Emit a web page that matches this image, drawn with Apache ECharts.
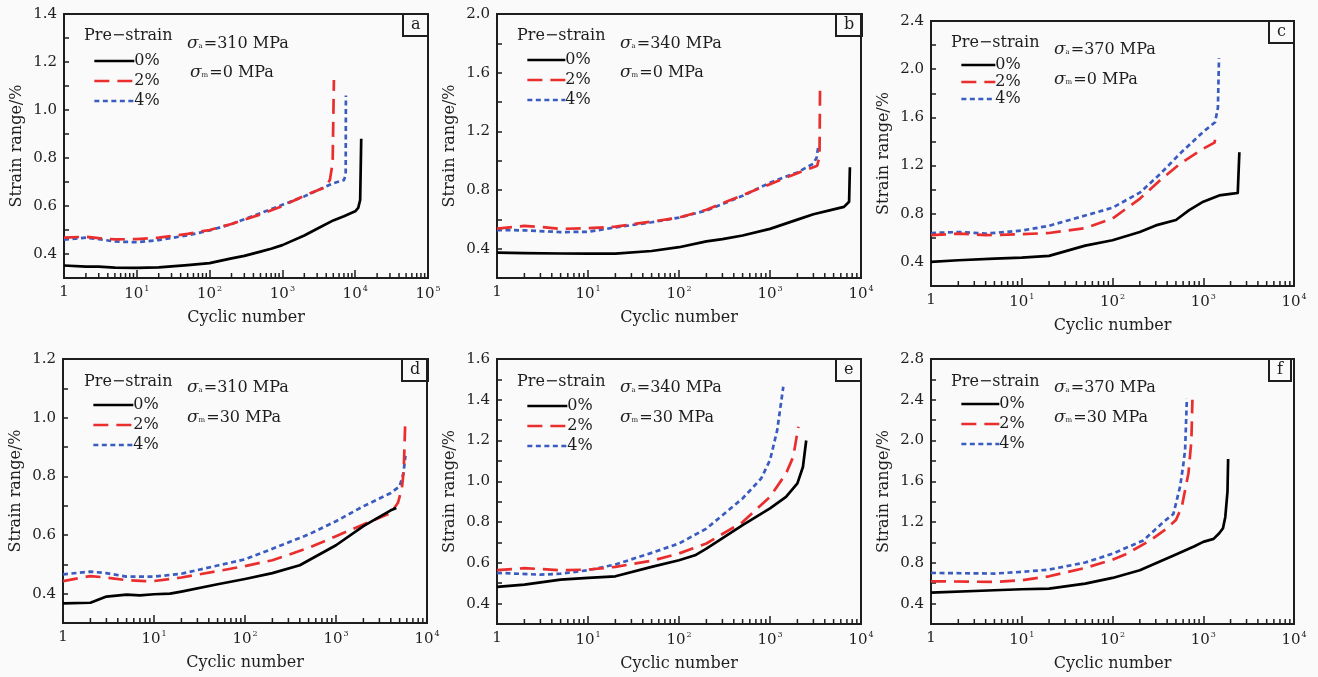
<!DOCTYPE html>
<html>
<head>
<meta charset="utf-8">
<script src="https://cdn.jsdelivr.net/npm/echarts@6/dist/echarts.min.js"></script>
<style>
html,body{margin:0;padding:0;background:#fafafa;}
#chart{width:1318px;height:677px;}
</style>
</head>
<body>
<div id="chart"></div>
<script>
// ---------------- DATA ----------------
const seriesNames = ['0%', '2%', '4%'];
const panelLetters = ['a', 'b', 'c', 'd', 'e', 'f'];
const stressAmp = ['310', '340', '370', '310', '340', '370'];
const stressMean = ['0', '0', '0', '30', '30', '30'];
const xMaxExp = [5, 4, 4, 4, 4, 4];
const yMin = [0.3, 0.2, 0.2, 0.3, 0.3, 0.2];
const yMax = [1.4, 2.0, 2.4, 1.2, 1.6, 2.8];
const yTickStep = [0.1, 0.2, 0.2, 0.1, 0.1, 0.2];
const xAxisTitle = 'Cyclic number';
const yAxisTitle = 'Strain range/%';
const legendTitle = 'Pre−strain';

// panel a (σa=310, σm=0)
const a0 = [[1,0.352],[2,0.347],[3,0.347],[5,0.343],[10,0.342],[20,0.344],[50,0.354],[100,0.362],[200,0.382],[300,0.392],[500,0.41],[700,0.422],[1000,0.437],[2000,0.477],[3000,0.505],[5000,0.54],[7000,0.557],[10000,0.578],[11000,0.592],[11700,0.625],[12100,0.88]];
const a2 = [[1,0.468],[2,0.472],[3,0.466],[5,0.461],[10,0.462],[20,0.468],[50,0.484],[100,0.5],[200,0.525],[500,0.565],[1000,0.6],[2000,0.643],[3000,0.665],[4000,0.68],[4500,0.71],[4900,0.78],[5100,1.125]];
const a4 = [[1,0.46],[2,0.468],[3,0.462],[5,0.452],[10,0.449],[20,0.458],[50,0.478],[100,0.498],[200,0.525],[500,0.57],[1000,0.605],[2000,0.64],[3000,0.665],[5000,0.695],[7000,0.708],[7400,0.73],[7450,1.06]];
// panel b (σa=340, σm=0)
const b0 = [[1,0.373],[2,0.37],[5,0.367],[10,0.366],[20,0.366],[50,0.384],[100,0.41],[200,0.45],[300,0.465],[500,0.49],[1000,0.535],[2000,0.598],[3000,0.635],[5000,0.668],[6500,0.685],[7400,0.72],[7550,0.955]];
const b2 = [[1,0.537],[2,0.555],[3,0.548],[5,0.535],[10,0.54],[20,0.55],[50,0.585],[100,0.612],[200,0.665],[500,0.765],[1000,0.84],[2000,0.915],[3000,0.955],[3300,0.965],[3500,1.03],[3550,1.525]];
const b4 = [[1,0.527],[2,0.525],[5,0.513],[10,0.515],[20,0.545],[50,0.58],[100,0.612],[200,0.66],[500,0.76],[1000,0.85],[2000,0.92],[3000,0.98],[3250,1.02],[3400,1.1]];
// panel c (σa=370, σm=0)
const c0 = [[1,0.4],[2,0.414],[5,0.428],[10,0.436],[20,0.45],[50,0.535],[100,0.58],[200,0.648],[300,0.703],[500,0.748],[700,0.83],[1000,0.9],[1500,0.952],[2000,0.965],[2400,0.972],[2500,1.31]];
const c2 = [[1,0.622],[2,0.635],[4,0.622],[10,0.63],[20,0.64],[50,0.68],[100,0.76],[201,0.926],[335,1.078],[556,1.216],[1000,1.34],[1330,1.39],[1370,1.44]];
const c4 = [[1,0.64],[2,0.648],[4,0.635],[10,0.66],[20,0.7],[50,0.785],[100,0.85],[200,0.975],[335,1.13],[556,1.3],[1000,1.48],[1350,1.56],[1450,1.68],[1490,2.09]];
// panel d (σa=310, σm=30)
const d0 = [[1,0.367],[2,0.369],[3,0.39],[5,0.397],[7,0.394],[10,0.398],[15,0.4],[20,0.407],[50,0.432],[100,0.45],[200,0.47],[400,0.497],[1000,0.565],[2000,0.63],[3000,0.662],[4000,0.684],[4600,0.692]];
const d2 = [[1,0.443],[2,0.46],[3,0.455],[5,0.446],[8,0.443],[10,0.443],[20,0.455],[50,0.477],[100,0.494],[200,0.514],[500,0.556],[1000,0.596],[2000,0.636],[4000,0.675],[4800,0.71],[5300,0.76],[5550,0.82],[5780,0.995]];
const d4 = [[1,0.466],[2,0.475],[3,0.47],[5,0.458],[10,0.458],[20,0.468],[50,0.496],[100,0.517],[200,0.553],[500,0.602],[1000,0.647],[2000,0.698],[4000,0.743],[5000,0.766],[5500,0.81],[5800,0.87]];
// panel e (σa=340, σm=30)
const e0 = [[1,0.482],[2,0.493],[5,0.518],[10,0.526],[20,0.534],[50,0.58],[100,0.613],[150,0.637],[200,0.67],[500,0.785],[1000,0.867],[1500,0.924],[2000,0.99],[2300,1.07],[2500,1.2]];
const e2 = [[1,0.564],[2,0.574],[5,0.564],[10,0.567],[20,0.58],[50,0.61],[100,0.646],[200,0.695],[500,0.8],[1000,0.924],[1500,1.038],[1800,1.12],[2050,1.268]];
const e4 = [[1,0.551],[3,0.542],[5,0.547],[10,0.564],[20,0.592],[50,0.649],[100,0.695],[200,0.768],[500,0.916],[800,1.014],[1000,1.104],[1200,1.251],[1400,1.464]];
// panel f (σa=370, σm=30)
const f0 = [[1,0.508],[5,0.531],[10,0.541],[20,0.547],[50,0.596],[100,0.652],[200,0.727],[500,0.881],[800,0.963],[1000,1.006],[1300,1.035],[1500,1.09],[1650,1.14],[1750,1.25],[1850,1.5],[1880,1.818]];
const f2 = [[1,0.619],[5,0.613],[10,0.629],[20,0.668],[50,0.75],[100,0.83],[144,0.89],[260,1.02],[396,1.137],[500,1.22],[580,1.35],[687,1.68],[740,2.0],[760,2.4]];
const f4 = [[1,0.701],[5,0.695],[10,0.711],[20,0.734],[50,0.803],[100,0.89],[219,1.02],[364,1.2],[469,1.28],[556,1.55],[600,1.75],[631,1.906],[660,2.414]];

const panelSeries = [[a0,a2,a4],[b0,b2,b4],[c0,c2,c4],[d0,d2,d4],[e0,e2,e4],[f0,f2,f4]];

// ---------------- LAYOUT / STYLE ----------------
const FONT = 'DejaVu Serif';
const INK = '#1e1e1e';
const lineColors = ['#000000', '#ea2e2e', '#3a5cc0'];
const lineTypes = ['solid', [15, 8], [5, 3.5]];
const grids = [
  {left: 64, top: 14, width: 364, height: 264},
  {left: 497, top: 14, width: 364, height: 264},
  {left: 931, top: 21, width: 363, height: 265},
  {left: 63, top: 359, width: 364, height: 264},
  {left: 497, top: 359, width: 364, height: 265},
  {left: 931, top: 359, width: 363, height: 265}
];
const legendPos = [
  {left: 88, top: 48, gap: 4, w: 40}, {left: 521, top: 47, gap: 4, w: 38}, {left: 955, top: 52, gap: 1, w: 34},
  {left: 87, top: 392, gap: 4, w: 40}, {left: 521, top: 393, gap: 4, w: 40}, {left: 955, top: 391, gap: 4, w: 38}
];
const legendTitlePos = [[84, 28], [517, 28], [951, 35], [84, 374], [517, 374], [951, 374]];
const sigmaPos = [[187, 35, 190, 64], [620, 35, 620, 64], [1054, 41, 1054, 71], [187, 379, 187, 409], [620, 379, 620, 409], [1054, 379, 1054, 409]];

const option = {
  backgroundColor: '#fafafa',
  animation: false,
  grid: [], xAxis: [], yAxis: [], series: [], legend: [], title: []
};

panelSeries.forEach((lines, i) => {
  const g = grids[i];
  option.grid.push(Object.assign({show: true, borderColor: INK, borderWidth: 2, backgroundColor: 'transparent'}, g));
  option.xAxis.push({
    type: 'log', logBase: 10, gridIndex: i, min: 1, max: Math.pow(10, xMaxExp[i]),
    name: xAxisTitle, nameLocation: 'middle', nameGap: 32,
    nameTextStyle: {fontFamily: FONT, fontSize: 16, color: INK},
    axisLine: {lineStyle: {color: INK, width: 2}},
    axisTick: {inside: true, length: 8, lineStyle: {color: INK, width: 1.5}},
    splitLine: {show: false},
    axisLabel: {
      showMinLabel: true, showMaxLabel: true, margin: 7,
      fontFamily: FONT, fontSize: 15, color: INK,
      formatter: v => { const e = Math.round(Math.log10(v)); return e === 0 ? '1' : '10{s|' + e + '}'; },
      rich: {s: {fontFamily: FONT, fontSize: 8, color: INK, padding: [0, 0, 10, 1]}}
    }
  });
  const step = yTickStep[i];
  option.yAxis.push({
    type: 'value', gridIndex: i, min: yMin[i], max: yMax[i], interval: step,
    name: yAxisTitle, nameLocation: 'middle', nameGap: 39,
    nameTextStyle: {fontFamily: FONT, fontSize: 16, color: INK},
    axisLine: {lineStyle: {color: INK, width: 2}},
    axisTick: {inside: true, length: 5, lineStyle: {color: INK, width: 1.5}},
    splitLine: {show: false},
    axisLabel: {
      showMinLabel: true, showMaxLabel: true, margin: 7,
      fontFamily: FONT, fontSize: 15, color: INK,
      formatter: v => {
        const tenths = Math.round(v * 10);
        const lab = step === 0.1 ? (tenths % 2 === 0) : (tenths % 4 === 0);
        return lab ? v.toFixed(1) : '';
      }
    }
  });
  lines.forEach((pts, s) => {
    option.series.push({
      type: 'line', name: seriesNames[s], xAxisIndex: i, yAxisIndex: i,
      data: pts, symbol: 'none', z: 5 - s,
      lineStyle: {color: lineColors[s], width: 2.7, type: lineTypes[s], join: 'round'},
      itemStyle: {color: lineColors[s]}
    });
  });
  // minor log ticks 2..9 × 10^k along the bottom axis
  const minor = [];
  for (let k = 0; k < xMaxExp[i]; k++) for (let m = 2; m <= 9; m++) minor.push([m * Math.pow(10, k), yMin[i]]);
  option.series.push({
    type: 'custom', xAxisIndex: i, yAxisIndex: i, silent: true, z: 6, clip: false,
    data: minor,
    renderItem: (params, api) => {
      const p = api.coord([api.value(0), api.value(1)]);
      return {type: 'line', shape: {x1: p[0], y1: p[1] - 1, x2: p[0], y2: p[1] - 5}, style: {stroke: INK, lineWidth: 1.5}};
    }
  });
  const lp = legendPos[i];
  option.legend.push({
    left: lp.left, top: lp.top, orient: 'vertical', itemWidth: lp.w, itemHeight: 10, itemGap: lp.gap,
    selectedMode: false, data: seriesNames,
    itemStyle: {opacity: 0},
    lineStyle: {width: 2.7},
    textStyle: {fontFamily: FONT, fontSize: 16, color: INK, padding: [0, 0, 0, -5]}
  });
  option.title.push({
    text: legendTitle, left: legendTitlePos[i][0], top: legendTitlePos[i][1], padding: 0,
    textStyle: {fontFamily: FONT, fontSize: 16, fontWeight: 'normal', color: INK}
  });
  const sigmaRich = {g: {fontFamily: FONT, fontSize: 17, fontStyle: 'italic', color: INK}, sub: {fontFamily: FONT, fontSize: 7, color: INK, padding: [5, 1, 0, 0]}};
  option.title.push({
    text: '{g|σ}{sub|a}=' + stressAmp[i] + ' MPa', left: sigmaPos[i][0], top: sigmaPos[i][1], padding: 0,
    textStyle: {fontFamily: FONT, fontSize: 16, fontWeight: 'normal', color: INK, rich: sigmaRich}
  });
  option.title.push({
    text: '{g|σ}{sub|m}=' + stressMean[i] + ' MPa', left: sigmaPos[i][2], top: sigmaPos[i][3], padding: 0,
    textStyle: {fontFamily: FONT, fontSize: 16, fontWeight: 'normal', color: INK, rich: sigmaRich}
  });
  option.title.push({
    text: panelLetters[i], left: g.left + g.width - 25, top: g.top, padding: [3, 8, 3, 8],
    borderColor: INK, borderWidth: 2,
    textStyle: {fontFamily: FONT, fontSize: 16, fontWeight: 'normal', color: INK}
  });
});

const chart = echarts.init(document.getElementById('chart'), null, {renderer: 'canvas'});
chart.setOption(option);
</script>
</body>
</html>
